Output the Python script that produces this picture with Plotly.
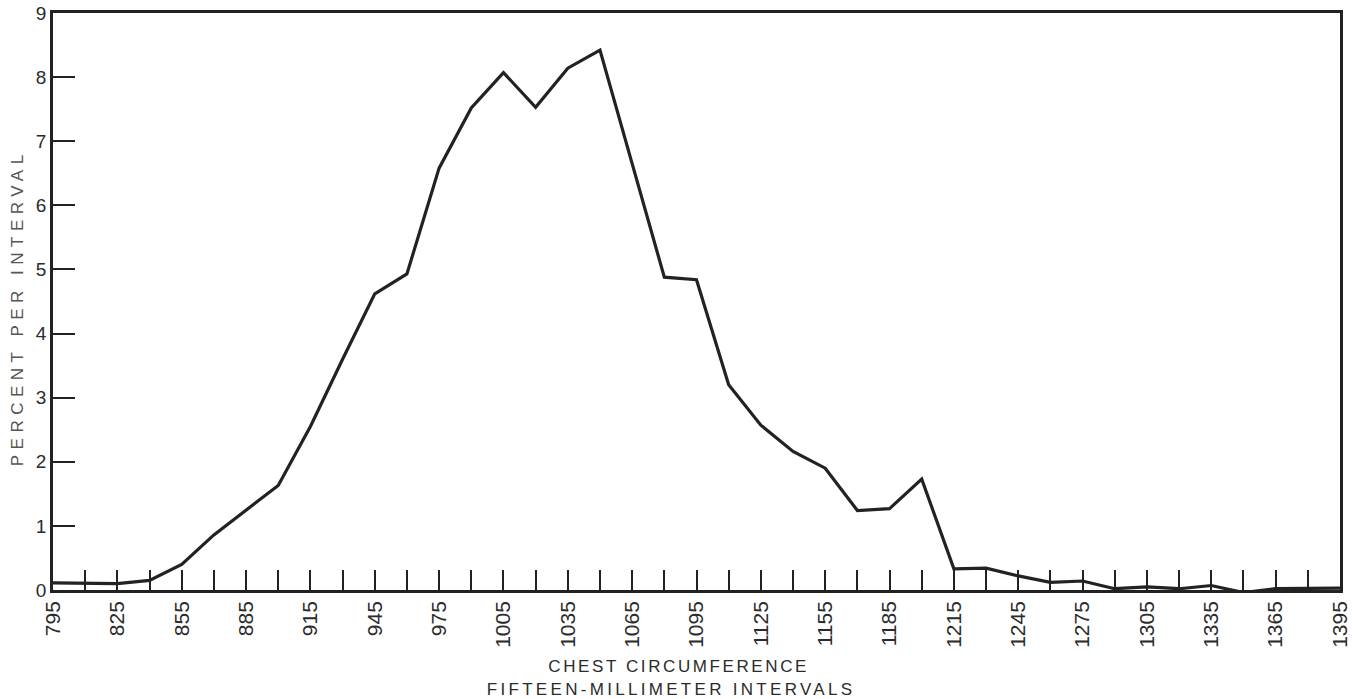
import plotly.graph_objects as go

# chest circumference, 15 mm interval midpoints
chest_mm = [795, 810, 825, 840, 855, 870, 885, 900, 915, 930,
            945, 960, 975, 990, 1005, 1020, 1035, 1050, 1065, 1080,
            1095, 1110, 1125, 1140, 1155, 1170, 1185, 1200, 1215, 1230,
            1245, 1260, 1275, 1290, 1305, 1320, 1335, 1350, 1365, 1380, 1395]
percent = [0.11, 0.10, 0.10, 0.15, 0.40, 0.86, 1.25, 1.63, 2.55, 3.60,
           4.62, 4.93, 6.58, 7.52, 8.07, 7.53, 8.14, 8.42, 6.65, 4.88,
           4.84, 3.20, 2.57, 2.16, 1.90, 1.24, 1.27, 1.73, 0.33, 0.34,
           0.22, 0.12, 0.14, 0.02, 0.05, 0.02, 0.07, -0.04, 0.02, 0.02, 0.03]
label_ticks = list(range(795, 1396, 30))
y_ticks = list(range(0, 10))

ink = "#222222"
text_col = "#2b2b2b"
font_family = "Liberation Sans, Arial, sans-serif"

fig = go.Figure()
fig.add_trace(go.Scatter(
    x=chest_mm, y=percent, mode="lines",
    line=dict(color=ink, width=3.2), showlegend=False,
    hoverinfo="x+y"
))

fig.update_layout(
    width=1352, height=699,
    margin=dict(l=53, r=12, t=13, b=109),
    plot_bgcolor="white", paper_bgcolor="white",
    font=dict(family=font_family, color=text_col),
)

fig.update_xaxes(
    range=[795, 1395], automargin=False,
    tickvals=label_ticks, ticktext=[str(v) for v in label_ticks],
    tickangle=-90, tickfont=dict(size=21, color=text_col),
    ticks="inside", ticklen=20, tickwidth=2, tickcolor=ink,
    minor=dict(dtick=15, tick0=795, ticks="inside", ticklen=20, tickwidth=2, tickcolor=ink),
    showline=True, linewidth=2.5, linecolor=ink, mirror=True,
    showgrid=False, zeroline=False,
)

fig.update_yaxes(
    range=[0, 9], automargin=False,
    tickvals=y_ticks,
    tickfont=dict(size=19, color=text_col),
    ticks="inside", ticklen=22, tickwidth=2, tickcolor=ink,
    showline=True, linewidth=2.5, linecolor=ink, mirror=True,
    showgrid=False, zeroline=False,
)

# axis titles placed as annotations to match the original spacing
fig.add_annotation(
    text="CHEST CIRCUMFERENCE", xref="paper", yref="paper",
    x=0.486, y=-0.132, xanchor="center", yanchor="middle",
    showarrow=False, font=dict(size=17, color=text_col)
)
fig.add_annotation(
    text="FIFTEEN-MILLIMETER INTERVALS", xref="paper", yref="paper",
    x=0.480, y=-0.172, xanchor="center", yanchor="middle",
    showarrow=False, font=dict(size=17, color=text_col)
)
fig.add_annotation(
    text="PERCENT PER INTERVAL", xref="paper", yref="paper",
    x=-0.028, y=0.49, xanchor="center", yanchor="middle", textangle=-90,
    showarrow=False, font=dict(size=17, color="#555555")
)

# drop the default body margin so the figure fills the window,
# and widen the letter spacing of the titles like the typeset original
page_js = """
document.body.style.margin = '0';
var tx = document.querySelectorAll('.annotation-text');
var sp = ['2.6px', '3.3px', '5.5px'];
tx.forEach(function(t, i) { t.style.letterSpacing = sp[i]; });
"""

fig.write_html("out.html", post_script=page_js, config={"displayModeBar": False})
